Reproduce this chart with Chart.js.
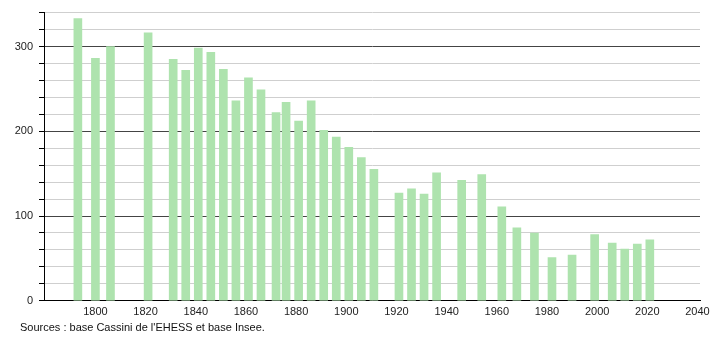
<!DOCTYPE html>
<html>
<head>
<meta charset="utf-8">
<script src="https://cdn.jsdelivr.net/npm/chart.js@4/dist/chart.umd.min.js"></script>
<style>
  html, body { margin: 0; padding: 0; background: #fff; }
  #wrap { position: relative; width: 710px; height: 340px; }
  #src { position: absolute; left: 20px; top: 321px; font: 11px "Liberation Sans", Arial, sans-serif; color: #111; }
</style>
</head>
<body>
<div id="wrap">
  <canvas id="pop" width="710" height="340"></canvas>
  <div id="src">Sources : base Cassini de l'EHESS et base Insee.</div>
</div>
<script>
// years of census and population
const years = [1793, 1800, 1806, 1821, 1831, 1836, 1841, 1846, 1851, 1856, 1861, 1866, 1872, 1876, 1881, 1886, 1891, 1896, 1901, 1906, 1911, 1921, 1926, 1931, 1936, 1946, 1954, 1962, 1968, 1975, 1982, 1990, 1999, 2006, 2011, 2016, 2021]
const population = [333, 286, 300, 316, 285, 272, 298, 293, 273, 236, 263, 249, 222, 234, 212, 236, 201, 193, 181, 169, 155, 127, 132, 126, 151, 142, 149, 111, 86, 80, 51, 54, 78, 68, 61, 67, 72]
const xTicks = [1800, 1820, 1840, 1860, 1880, 1900, 1920, 1940, 1960, 1980, 2000, 2020, 2040]
const yLabels = [0, 100, 200, 300]

let pts = []
years.forEach((y, i) => {
    pts.push({ x: y, y: population[i] })
})

const font = { family: '"Liberation Sans", Arial, sans-serif', size: 11 }

new Chart(document.getElementById('pop').getContext('2d'), {
    type: 'bar',
    data: {
        datasets: [{
            data: pts,
            backgroundColor: '#aee3ae',
            barThickness: 8,
            borderWidth: 0
        }]
    },
    options: {
        responsive: false,
        animation: false,
        layout: { padding: { left: 0, right: 10, top: 10, bottom: 16 } },
        plugins: { legend: { display: false }, tooltip: { enabled: false } },
        scales: {
            x: {
                type: 'linear',
                offset: false,
                min: 1779.5,
                max: 2041,
                grid: { display: false, drawTicks: false },
                border: { color: '#000', width: 1 },
                afterBuildTicks: axis => { axis.ticks = xTicks.map(v => ({ value: v })) },
                afterFit: axis => { axis.paddingLeft = 0; axis.paddingRight = 0 },
                ticks: { font: font, color: '#222', padding: 5, maxRotation: 0, autoSkip: false, callback: v => String(v) }
            },
            y: {
                min: 0,
                max: 340,
                afterFit: axis => { axis.width = 44 },
                ticks: {
                    stepSize: 20,
                    font: font,
                    color: '#222',
                    padding: 6,
                    callback: v => yLabels.includes(v) ? v : ''
                },
                grid: {
                    color: c => (c.tick && c.tick.value % 100 === 0) ? '#444' : '#cfcfcf',
                    tickColor: '#000',
                    tickLength: 5
                },
                border: { color: '#000', width: 1 }
            }
        }
    }
})
</script>
</body>
</html>
